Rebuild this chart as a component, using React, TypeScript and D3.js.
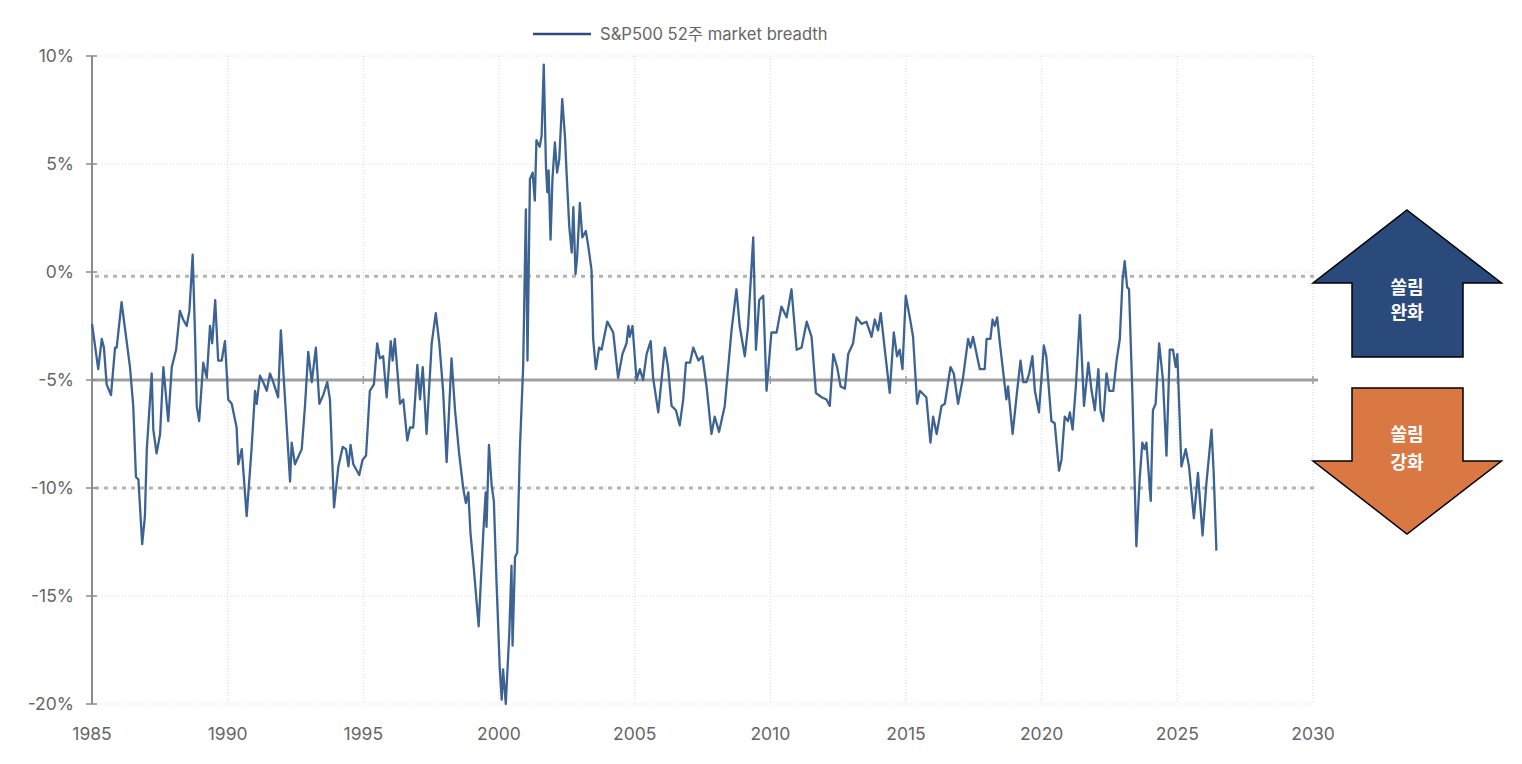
import React from "react";
import * as d3 from "d3";

// S&P500 52주 market breadth (decimal year, %)
const years = [
  1985.0, 1985.23, 1985.36, 1985.44, 1985.54, 1985.7, 1985.85, 1985.91, 1986.09, 1986.4,
  1986.52, 1986.62, 1986.71, 1986.85, 1986.95, 1987.02, 1987.2, 1987.26, 1987.38, 1987.51,
  1987.63, 1987.81, 1987.94, 1988.1, 1988.24, 1988.36, 1988.49, 1988.59, 1988.71, 1988.8,
  1988.86, 1988.95, 1989.1, 1989.23, 1989.35, 1989.43, 1989.54, 1989.65, 1989.78, 1989.9,
  1990.02, 1990.15, 1990.33, 1990.39, 1990.52, 1990.7, 1990.88, 1991.01, 1991.07, 1991.19,
  1991.31, 1991.44, 1991.56, 1991.68, 1991.86, 1991.96, 1992.11, 1992.3, 1992.36, 1992.48,
  1992.73, 1992.85, 1992.97, 1993.1, 1993.25, 1993.38, 1993.52, 1993.67, 1993.77, 1993.92,
  1994.08, 1994.24, 1994.36, 1994.45, 1994.53, 1994.63, 1994.85, 1994.97, 1995.1, 1995.24,
  1995.39, 1995.51, 1995.61, 1995.73, 1995.86, 1996.01, 1996.08, 1996.16, 1996.35, 1996.47,
  1996.62, 1996.72, 1996.84, 1996.99, 1997.09, 1997.19, 1997.33, 1997.52, 1997.67, 1997.8,
  1997.94, 1998.07, 1998.25, 1998.38, 1998.53, 1998.68, 1998.78, 1998.87, 1998.95, 1999.07,
  1999.25, 1999.42, 1999.51, 1999.54, 1999.63, 1999.73, 1999.81, 1999.91, 2000.03, 2000.1,
  2000.15, 2000.25, 2000.38, 2000.46, 2000.5, 2000.59, 2000.67, 2000.77, 2000.89, 2000.99,
  2001.05, 2001.14, 2001.24, 2001.32, 2001.38, 2001.5, 2001.57, 2001.65, 2001.73, 2001.78,
  2001.83, 2001.9, 2001.97, 2002.06, 2002.14, 2002.22, 2002.33, 2002.43, 2002.49, 2002.59,
  2002.68, 2002.74, 2002.82, 2002.88, 2002.98, 2003.07, 2003.2, 2003.29, 2003.41, 2003.47,
  2003.57, 2003.69, 2003.78, 2003.99, 2004.21, 2004.39, 2004.55, 2004.7, 2004.77, 2004.82,
  2004.92, 2005.07, 2005.19, 2005.31, 2005.44, 2005.59, 2005.68, 2005.87, 2005.99, 2006.11,
  2006.23, 2006.36, 2006.52, 2006.66, 2006.79, 2006.89, 2007.04, 2007.16, 2007.35, 2007.5,
  2007.65, 2007.83, 2007.95, 2008.11, 2008.32, 2008.57, 2008.75, 2008.87, 2009.06, 2009.18,
  2009.37, 2009.47, 2009.59, 2009.74, 2009.86, 2010.04, 2010.23, 2010.41, 2010.6, 2010.78,
  2010.97, 2011.15, 2011.34, 2011.52, 2011.68, 2011.89, 2012.07, 2012.19, 2012.32, 2012.46,
  2012.59, 2012.75, 2012.87, 2013.05, 2013.18, 2013.36, 2013.54, 2013.73, 2013.85, 2013.97,
  2014.07, 2014.22, 2014.4, 2014.55, 2014.67, 2014.77, 2014.87, 2014.99, 2015.14, 2015.26,
  2015.41, 2015.51, 2015.75, 2015.9, 2016.0, 2016.13, 2016.31, 2016.43, 2016.64, 2016.76,
  2016.92, 2017.1, 2017.29, 2017.38, 2017.47, 2017.72, 2017.9, 2017.97, 2018.11, 2018.19,
  2018.27, 2018.36, 2018.46, 2018.7, 2018.76, 2018.93, 2019.07, 2019.22, 2019.32, 2019.44,
  2019.54, 2019.66, 2019.75, 2019.9, 2020.08, 2020.17, 2020.36, 2020.48, 2020.64, 2020.73,
  2020.85, 2020.97, 2021.04, 2021.14, 2021.26, 2021.41, 2021.56, 2021.72, 2021.84, 2021.96,
  2022.09, 2022.17, 2022.27, 2022.39, 2022.49, 2022.64, 2022.76, 2022.88, 2022.98, 2023.06,
  2023.15, 2023.22, 2023.34, 2023.49, 2023.61, 2023.71, 2023.79, 2023.86, 2024.02, 2024.1,
  2024.2, 2024.33, 2024.47, 2024.6, 2024.72, 2024.84, 2024.94, 2025.0, 2025.15, 2025.31,
  2025.43, 2025.61, 2025.76, 2025.93, 2026.07, 2026.26, 2026.34, 2026.44,
];

const breadth = [
  -2.4, -4.5, -3.1, -3.5, -5.2, -5.7, -3.5, -3.5, -1.4, -4.4,
  -6.2, -9.5, -9.6, -12.6, -11.3, -8.2, -4.7, -7.3, -8.4, -7.5,
  -4.4, -6.9, -4.4, -3.6, -1.8, -2.2, -2.5, -1.8, 0.8, -3.0,
  -6.2, -6.9, -4.2, -4.9, -2.5, -3.3, -1.3, -4.1, -4.1, -3.2,
  -5.9, -6.1, -7.2, -8.9, -8.2, -11.3, -8.2, -5.5, -6.1, -4.8,
  -5.1, -5.5, -4.7, -5.1, -5.8, -2.7, -5.8, -9.7, -7.9, -8.9,
  -8.2, -6.2, -3.7, -5.1, -3.5, -6.1, -5.7, -5.1, -5.9, -10.9,
  -9.0, -8.1, -8.2, -9.0, -8.0, -8.9, -9.4, -8.7, -8.5, -5.5,
  -5.2, -3.3, -4.0, -3.9, -5.8, -3.2, -4.1, -3.1, -6.1, -5.9,
  -7.8, -7.2, -7.2, -4.3, -5.9, -4.4, -7.5, -3.3, -1.9, -3.3,
  -5.5, -8.8, -4.0, -6.4, -8.4, -10.0, -10.7, -10.2, -12.1, -13.7,
  -16.4, -12.1, -10.2, -11.8, -8.0, -9.9, -10.6, -14.4, -18.4, -19.8,
  -18.4, -20.0, -16.7, -13.6, -17.3, -13.2, -13.0, -8.2, -4.4, 2.9,
  -4.1, 4.3, 4.6, 3.3, 6.1, 5.8, 6.3, 9.6, 4.9, 3.7,
  4.7, 1.5, 4.3, 6.0, 4.6, 5.2, 8.0, 6.3, 4.6, 2.1,
  0.9, 3.0, -0.1, 0.7, 3.2, 1.6, 1.9, 1.2, 0.1, -3.1,
  -4.5, -3.5, -3.6, -2.3, -2.8, -4.9, -3.8, -3.3, -2.5, -3.0,
  -2.5, -5.0, -4.5, -5.0, -3.8, -3.2, -4.9, -6.5, -5.0, -3.5,
  -4.4, -6.2, -6.4, -7.1, -5.9, -4.2, -4.2, -3.5, -4.1, -3.9,
  -5.3, -7.5, -6.7, -7.4, -6.2, -2.7, -0.8, -2.5, -3.9, -2.5,
  1.6, -3.6, -1.3, -1.1, -5.5, -2.8, -2.8, -1.6, -2.1, -0.8,
  -3.6, -3.5, -2.3, -3.0, -5.6, -5.8, -5.9, -6.2, -3.8, -4.4,
  -5.3, -5.4, -3.8, -3.3, -2.1, -2.4, -2.3, -3.0, -2.2, -2.7,
  -1.9, -3.6, -5.6, -2.8, -3.9, -3.6, -4.5, -1.1, -2.1, -3.0,
  -6.1, -5.5, -5.8, -7.9, -6.7, -7.5, -6.2, -6.1, -4.4, -4.7,
  -6.1, -4.9, -3.1, -3.5, -3.0, -4.5, -4.5, -3.1, -3.1, -2.2,
  -2.5, -2.1, -3.3, -5.9, -5.3, -7.5, -5.8, -4.1, -5.1, -5.1,
  -4.7, -3.9, -5.5, -6.5, -3.4, -3.9, -6.9, -7.0, -9.2, -8.7,
  -6.7, -6.9, -6.5, -7.3, -5.3, -2.0, -6.2, -4.2, -5.5, -6.4,
  -4.5, -6.4, -6.9, -4.7, -5.5, -5.5, -4.1, -3.1, -0.4, 0.5,
  -0.7, -0.8, -5.5, -12.7, -9.6, -7.9, -8.2, -7.9, -10.6, -6.4,
  -6.1, -3.3, -5.0, -8.5, -3.6, -3.6, -4.4, -3.8, -9.0, -8.2,
  -9.0, -11.4, -9.3, -12.2, -9.8, -7.3, -9.3, -12.9,
];

const xTicks = [1985, 1990, 1995, 2000, 2005, 2010, 2015, 2020, 2025, 2030];
const yTicks = [10, 5, 0, -5, -10, -15, -20];
const upperBand = -0.2;
const midLine = -5;
const lowerBand = -10;

const legendLabel = "S&P500 52주 market breadth";
const upLabel = ["쏠림", "완화"];
const downLabel = ["쏠림", "강화"];

const FONT = "Inter, 'Noto Sans CJK KR', sans-serif";
const KFONT = "'Noto Sans CJK KR', sans-serif";

export default function App() {
  const x = d3.scaleLinear().domain([1985, 2030]).range([92, 1313]);
  const y = d3.scaleLinear().domain([-20, 10]).range([704, 56]);

  const points: [number, number][] = years.map((yr, i) => [yr, breadth[i]]);
  const line = d3
    .line<[number, number]>()
    .x((d) => x(d[0]))
    .y((d) => y(d[1]));

  const x0 = x(1985);
  const x1 = x(2030);

  // arrow shapes (annotation, outside the plot)
  const ax = 1407;
  const up = `M${ax},210 L1501.5,283 L1463,283 L1463,357 L1352,357 L1352,283 L1313,283 Z`;
  const down = `M1352,388 L1463,388 L1463,461 L1501.5,461 L${ax},534 L1313,461 L1352,461 Z`;

  return (
    <div style={{ position: "absolute", left: 0, top: 0 }}>
      <svg width={1522} height={764} style={{ display: "block", background: "#fff" }}>
        {/* grid */}
        <g stroke="#d9d9d9" strokeWidth={1} strokeDasharray="1,2">
          {xTicks.slice(1).map((t) => (
            <line key={"vx" + t} x1={x(t)} x2={x(t)} y1={y(10)} y2={y(-20)} />
          ))}
          {yTicks.map((t) => (
            <line key={"hy" + t} x1={x0} x2={x1} y1={y(t)} y2={y(t)} />
          ))}
        </g>

        {/* reference bands */}
        <line x1={x0 + 3} x2={x1 + 5} y1={y(upperBand)} y2={y(upperBand)}
          stroke="#b3b3b3" strokeWidth={3} strokeDasharray="4,5" />
        <line x1={x0 + 3} x2={x1 + 5} y1={y(lowerBand)} y2={y(lowerBand)}
          stroke="#b3b3b3" strokeWidth={3} strokeDasharray="4,5" />
        <line x1={x0} x2={x1 + 5} y1={y(midLine)} y2={y(midLine)}
          stroke="#a0a0a0" strokeWidth={3} />
        {xTicks.slice(1).map((t) => (
          <line key={"mt" + t} x1={x(t)} x2={x(t)} y1={y(midLine) - 4} y2={y(midLine) + 4}
            stroke="#a0a0a0" strokeWidth={1.5} />
        ))}

        {/* y axis */}
        <line x1={x0} x2={x0} y1={y(10)} y2={y(-20)} stroke="#8c8c8c" strokeWidth={2} />
        {yTicks.map((t) => (
          <g key={"yt" + t}>
            <line x1={x0 - 6} x2={x0 + 5} y1={y(t)} y2={y(t)} stroke="#8c8c8c" strokeWidth={1.5} />
            <text x={74} y={y(t)} dy="0.35em" textAnchor="end" fontSize={17.5}
              fill="#666" fontFamily={FONT}>
              {t + "%"}
            </text>
          </g>
        ))}

        {/* x labels */}
        {xTicks.map((t) => (
          <text key={"xt" + t} x={x(t)} y={740} textAnchor="middle" fontSize={17.5}
            fill="#666" fontFamily={FONT}>
            {t}
          </text>
        ))}

        {/* series */}
        <path d={line(points) || ""} fill="none" stroke="#3d6392" strokeWidth={2.3}
          strokeLinejoin="round" />

        {/* legend */}
        <line x1={533} x2={591} y1={34} y2={34} stroke="#2c4b80" strokeWidth={2.5} />
        <text x={600} y={34} dy="0.35em" fontSize={16.6} fill="#666" fontFamily={FONT}>
          {legendLabel}
        </text>

        {/* arrows */}
        <path d={up} fill="#2a4a7c" stroke="#000" strokeWidth={1.5} />
        <path d={down} fill="#d97843" stroke="#000" strokeWidth={1.5} />
        {upLabel.map((s, i) => (
          <text key={"u" + i} x={ax} y={288 + i * 25} dy="0.35em" textAnchor="middle"
            fontSize={18} fontWeight={700} fill="#fff" fontFamily={KFONT}>
            {s}
          </text>
        ))}
        {downLabel.map((s, i) => (
          <text key={"d" + i} x={ax} y={435 + i * 28} dy="0.35em" textAnchor="middle"
            fontSize={18} fontWeight={700} fill="#fff" fontFamily={KFONT}>
            {s}
          </text>
        ))}
      </svg>
    </div>
  );
}
